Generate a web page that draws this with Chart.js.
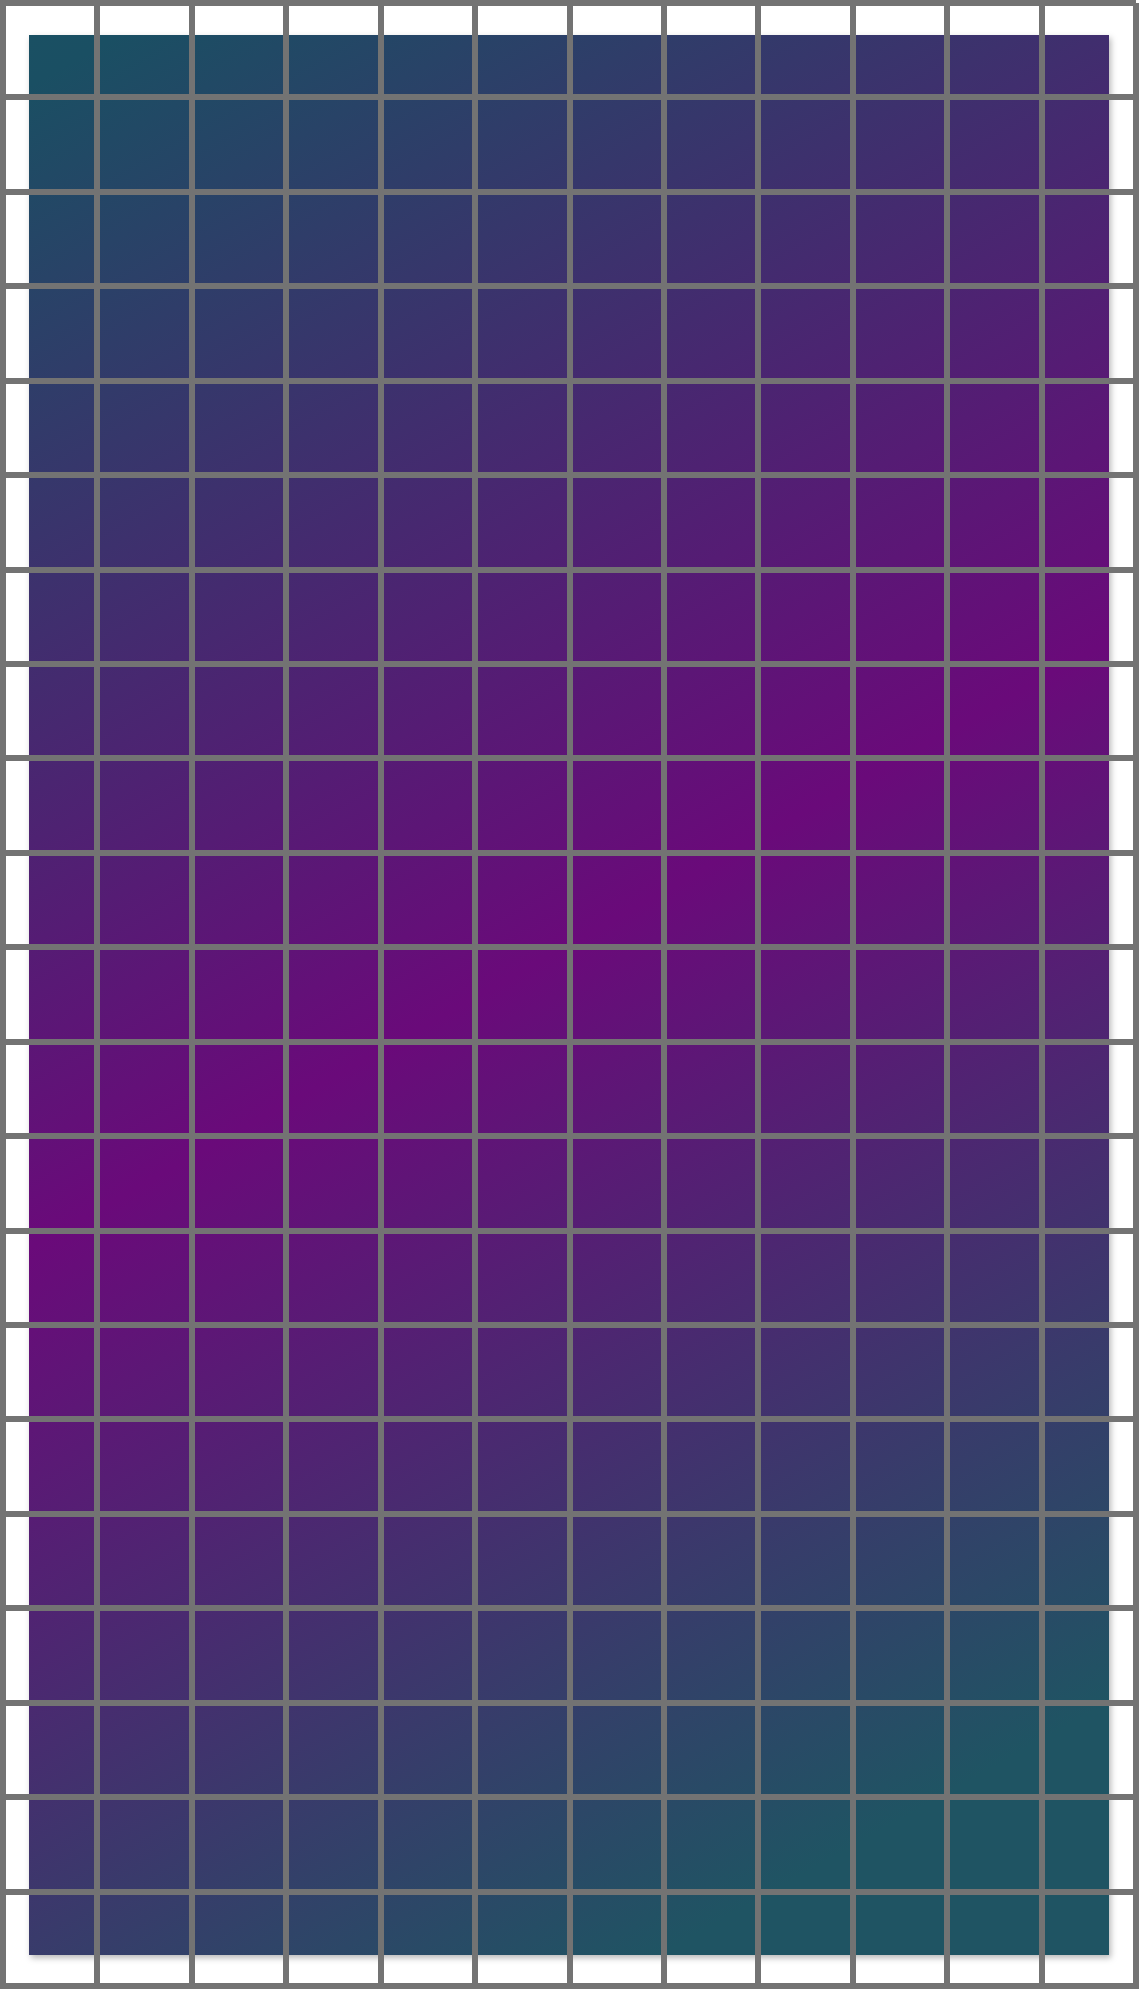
<!DOCTYPE html>
<html>
<head>
<meta charset="utf-8">
<style>
  html, body { margin: 0; padding: 0; background: #ffffff; }
  #wrap { width: 1139px; height: 1989px; }
  canvas { display: block; }
</style>
<script src="https://cdn.jsdelivr.net/npm/chart.js@4/dist/chart.umd.min.js"></script>
</head>
<body>
<div id="wrap"><canvas id="c" width="1139" height="1989"></canvas></div>
<script>
// Grid boundaries (columns and rows of the lattice)
const columnBoundaries = [0, 1, 2, 3, 4, 5, 6, 7, 8, 9, 10, 11, 12];
const rowBoundaries = [0, 1, 2, 3, 4, 5, 6, 7, 8, 9, 10, 11, 12, 13, 14, 15, 16, 17, 18, 19, 20, 21];
// No plotted series in the reference: the chart is an empty lattice over a gradient panel
const seriesPoints = [];

const gridColor = '#737373';
const gridWidth = 6;

const backgroundPanel = {
  id: 'backgroundPanel',
  beforeDraw(chart) {
    const ctx = chart.ctx;
    const x = 29, y = 35, w = 1080, h = 1920;
    const g = ctx.createLinearGradient(x, y, x + w, y + h);
    g.addColorStop(0, '#1a5063');
    g.addColorStop(0.02, '#1a4f63');
    g.addColorStop(0.48, '#6a0a7a');
    g.addColorStop(0.9, '#1f5463');
    g.addColorStop(1, '#1f5463');
    ctx.save();
    ctx.shadowColor = 'rgba(0,0,0,0.28)';
    ctx.shadowBlur = 6;
    ctx.shadowOffsetX = 2;
    ctx.shadowOffsetY = 3;
    ctx.fillStyle = g;
    ctx.fillRect(x, y, w, h);
    ctx.restore();
  }
};

new Chart(document.getElementById('c'), {
  type: 'scatter',
  data: { datasets: [{ data: seriesPoints, pointRadius: 0 }] },
  options: {
    responsive: false,
    animation: false,
    devicePixelRatio: 1,
    layout: { padding: 3 },
    plugins: { legend: { display: false }, tooltip: { enabled: false } },
    scales: {
      x: {
        type: 'linear',
        min: columnBoundaries[0],
        max: columnBoundaries[columnBoundaries.length - 1],
        afterBuildTicks: (s) => { s.ticks = columnBoundaries.map(v => ({ value: v })); },
        ticks: { display: false },
        grid: { color: gridColor, lineWidth: gridWidth, drawTicks: false },
        border: { display: true, color: gridColor, width: gridWidth }
      },
      y: {
        type: 'linear',
        min: rowBoundaries[0],
        max: rowBoundaries[rowBoundaries.length - 1],
        afterBuildTicks: (s) => { s.ticks = rowBoundaries.map(v => ({ value: v })); },
        ticks: { display: false },
        grid: { color: gridColor, lineWidth: gridWidth, drawTicks: false },
        border: { display: true, color: gridColor, width: gridWidth }
      }
    }
  },
  plugins: [backgroundPanel]
});
</script>
</body>
</html>
